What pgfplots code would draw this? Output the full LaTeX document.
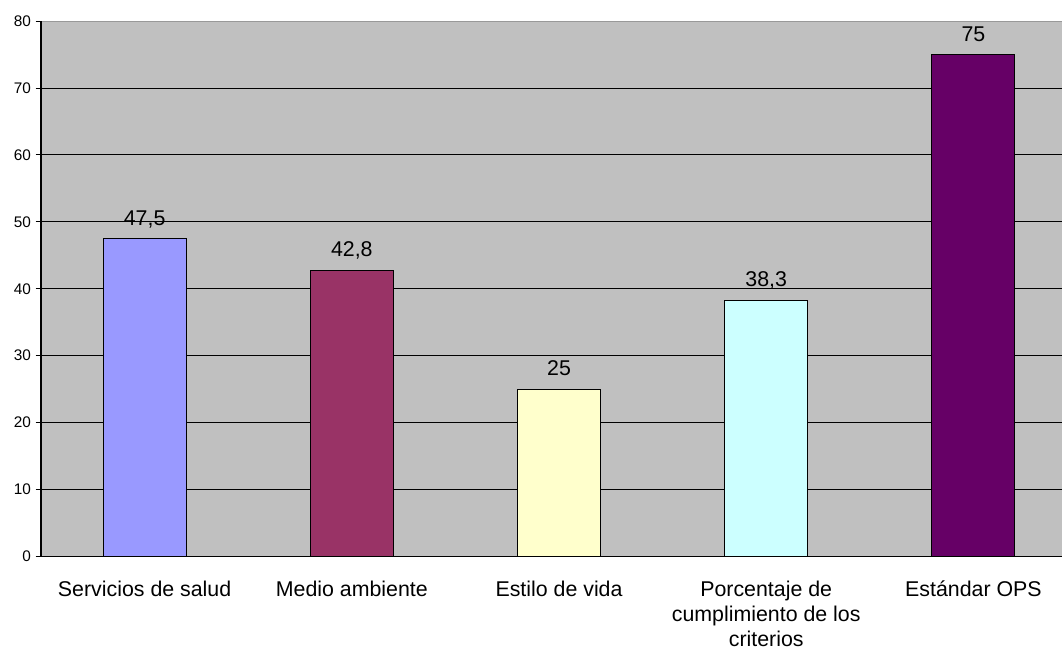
\documentclass[border=0pt]{standalone}
\usepackage{fontspec}
\setmainfont{Liberation Sans}
\usepackage{pgfplots}
\pgfplotsset{compat=1.18}

\definecolor{plotbg}{HTML}{C0C0C0}
\definecolor{c1}{HTML}{9999FF}
\definecolor{c2}{HTML}{993366}
\definecolor{c3}{HTML}{FFFFCC}
\definecolor{c4}{HTML}{CCFFFF}
\definecolor{c5}{HTML}{660066}

\begin{document}
\begin{tikzpicture}
% page frame: the plot area runs a little past the right edge
\path[use as bounding box, clip] (-30pt,-69pt) rectangle (765.75pt,417pt);
\begin{axis}[
  at={(0.75pt,0pt)}, anchor=south west,
  scale only axis,
  width=776.25pt, height=401.25pt,
  xmin=-0.5, xmax=4.5,
  ymin=0, ymax=80,
  ybar, bar width=62.25pt, bar shift=0pt,
  axis x line=bottom, axis y line=left,
  axis line style={black, line width=0.9pt, -},
  axis background/.style={fill=plotbg, draw=gray!80, line width=0.6pt},
  xtick={0,1,2,3,4},
  xticklabels={Servicios de salud, Medio ambiente, Estilo de vida,
    {Porcentaje de\\cumplimiento de los\\criterios}, Estándar OPS},
  xticklabel style={align=center, font=\fontsize{16}{18.75}\selectfont, yshift=-10.5pt},
  x tick style={draw=none},
  extra x ticks={-0.5,0.5,1.5,2.5,3.5},
  extra x tick labels={},
  extra x tick style={tick style={draw=black, line width=0.6pt}, major tick length=4pt, tick align=outside},
  ytick={0,10,...,70},
  extra y ticks={80},
  extra y tick style={grid=none},
  ymajorgrids,
  major grid style={black, line width=0.6pt},
  y tick style={black, line width=0.6pt},
  major tick length=4pt,
  tick align=outside,
  yticklabel style={font=\fontsize{11.5}{13}\selectfont},
  /pgf/number format/assume math mode=true,
  nodes near coords,
  nodes near coords style={font=\fontsize{16}{19}\selectfont, anchor=base, yshift=10pt,
    /pgf/number format/.cd, fixed, precision=1, use comma, assume math mode=true},
  every axis plot/.append style={draw=black, line width=0.7pt},
  clip=false,
]
\addplot[fill=c1] coordinates {(0,47.5)};
\addplot[fill=c2] coordinates {(1,42.8)};
\addplot[fill=c3] coordinates {(2,25)};
\addplot[fill=c4] coordinates {(3,38.3)};
\addplot[fill=c5] coordinates {(4,75)};
\end{axis}
\end{tikzpicture}
\end{document}
